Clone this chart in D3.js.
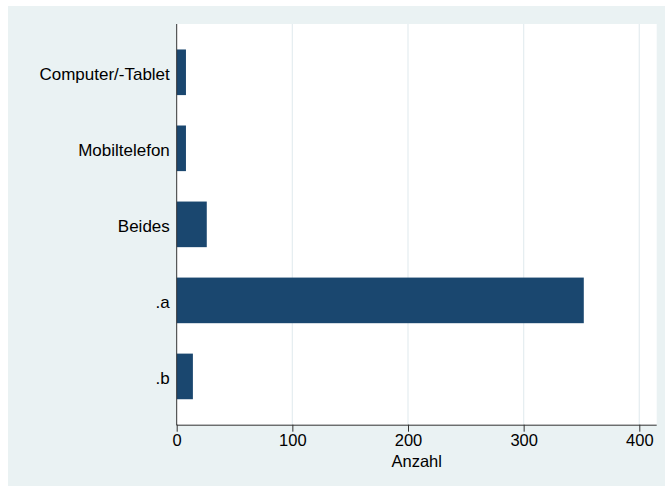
<!DOCTYPE html>
<html>
<head>
<meta charset="utf-8">
<script src="https://cdn.jsdelivr.net/npm/d3@7"></script>
<style>
  html, body { margin: 0; padding: 0; background: #ffffff; }
  svg { display: block; }
  text { font-family: "Liberation Sans", Arial, sans-serif; fill: #000; }
</style>
</head>
<body>
<div id="chart"></div>
<script>
const categories = ["Computer/-Tablet", "Mobiltelefon", "Beides", ".a", ".b"];
const counts = [8, 8, 26, 352, 14];
const xTicks = [0, 100, 200, 300, 400];
const xLabel = "Anzahl";

const W = 665, H = 486;
const svg = d3.select("#chart").append("svg").attr("width", W).attr("height", H);

// outer graph region
svg.append("rect").attr("x", 8).attr("y", 6).attr("width", W - 8).attr("height", H - 6)
  .attr("fill", "#eaf2f3");

const plot = { left: 176.7, right: 656.7, top: 24, bottom: 424.7 };

svg.append("rect").attr("x", plot.left).attr("y", plot.top)
  .attr("width", plot.right - plot.left).attr("height", plot.bottom - plot.top)
  .attr("fill", "#ffffff");

const x = d3.scaleLinear().domain([0, 400]).range([plot.left, 639.3]);
const y = d3.scaleBand().domain(categories).range([plot.top, plot.bottom])
  .paddingInner(0.4).paddingOuter(0.335);

// gridlines
svg.append("g").selectAll("line").data(xTicks.filter(d => d > 0)).join("line")
  .attr("x1", d => x(d)).attr("x2", d => x(d))
  .attr("y1", plot.top).attr("y2", plot.bottom)
  .attr("stroke", "#e6eef1").attr("stroke-width", 1.3);

// bars
svg.append("g").selectAll("rect").data(categories).join("rect")
  .attr("x", x(0))
  .attr("y", d => y(d))
  .attr("width", (d, i) => x(counts[i]) - x(0))
  .attr("height", y.bandwidth())
  .attr("fill", "#1a476f");

// x axis
const xAxis = d3.axisBottom(x).tickValues(xTicks).tickSize(7).tickPadding(3).tickSizeOuter(0);
const gx = svg.append("g").attr("transform", `translate(0,${plot.bottom})`).call(xAxis);
gx.select(".domain").attr("d", `M${plot.left},0.5H${plot.right}`).attr("stroke", "#333").attr("stroke-width", 1);
gx.selectAll(".tick line").attr("stroke", "#333");
gx.selectAll(".tick text").attr("font-size", "16.5px").attr("font-family", "Liberation Sans, Arial, sans-serif").attr("fill", "#000");

svg.append("text").attr("x", (plot.left + plot.right) / 2).attr("y", 466.7)
  .attr("text-anchor", "middle").attr("font-size", "16.5px").text(xLabel);

// y axis line
svg.append("line").attr("x1", plot.left).attr("x2", plot.left)
  .attr("y1", plot.top).attr("y2", plot.bottom + 0.5)
  .attr("stroke", "#333").attr("stroke-width", 1);

// category labels
svg.append("g").selectAll("text").data(categories).join("text")
  .attr("x", 169.8)
  .attr("y", d => y(d) + y.bandwidth() / 2 + 7.8)
  .attr("text-anchor", "end")
  .attr("font-size", "17px")
  .text(d => d);
</script>
</body>
</html>
